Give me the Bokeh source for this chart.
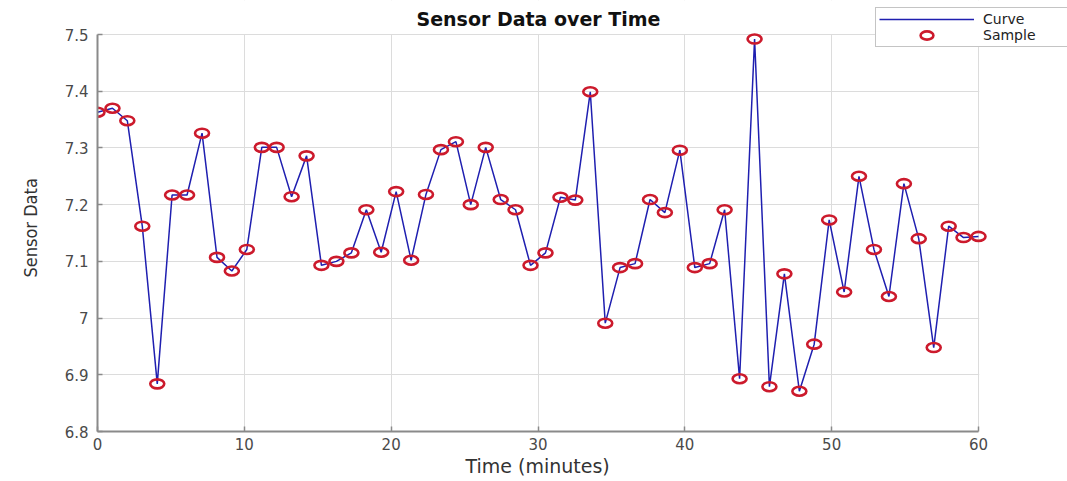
from bokeh.plotting import figure
from bokeh.models import (Range1d, FixedTicker, Legend, LegendItem, Title,
                          Label, BoxAnnotation)
from bokeh.embed import file_html
from bokeh.resources import INLINE

time_min = [0.00, 1.02, 2.03, 3.05, 4.07, 5.08, 6.10, 7.12, 8.14, 9.15,
            10.17, 11.19, 12.20, 13.22, 14.24, 15.25, 16.27, 17.29, 18.31, 19.32,
            20.34, 21.36, 22.37, 23.39, 24.41, 25.42, 26.44, 27.46, 28.47, 29.49,
            30.51, 31.53, 32.54, 33.56, 34.58, 35.59, 36.61, 37.63, 38.64, 39.66,
            40.68, 41.69, 42.71, 43.73, 44.75, 45.76, 46.78, 47.80, 48.81, 49.83,
            50.85, 51.86, 52.88, 53.90, 54.92, 55.93, 56.95, 57.97, 58.98, 60.00]

sensor = [7.363, 7.370, 7.348, 7.162, 6.884, 7.217, 7.217, 7.326, 7.107, 7.083,
          7.121, 7.301, 7.301, 7.214, 7.286, 7.093, 7.100, 7.115, 7.191, 7.116,
          7.223, 7.102, 7.218, 7.297, 7.311, 7.200, 7.301, 7.209, 7.191, 7.093,
          7.115, 7.213, 7.208, 7.399, 6.991, 7.089, 7.096, 7.209, 7.186, 7.296,
          7.089, 7.096, 7.191, 6.893, 7.492, 6.879, 7.078, 6.871, 6.954, 7.173,
          7.046, 7.250, 7.121, 7.038, 7.237, 7.140, 6.948, 7.162, 7.142, 7.144]

x_lim = (0, 60)
y_lim = (6.8, 7.5)
x_ticks = [0, 10, 20, 30, 40, 50, 60]
y_ticks = [6.8, 6.9, 7.0, 7.1, 7.2, 7.3, 7.4, 7.5]
y_tick_labels = ["6.8", "6.9", "7", "7.1", "7.2", "7.3", "7.4", "7.5"]

FONT = "DejaVu Sans"
GREY_TXT = "#4a4a4a"

# The frame spans to the right and top edges so the legend (which sits
# partly above the axes box) is not clipped; axes are bounded to the data box.
FRAME_L, FRAME_B = 97, 431          # px: data box left / bottom
PX_X = (978 - 97) / (x_lim[1] - x_lim[0])
PX_Y = (431 - 34) / (y_lim[1] - y_lim[0])
x_max_view = x_lim[0] + (1067 - FRAME_L) / PX_X
y_max_view = y_lim[1] + 34 / PX_Y

p = figure(width=1067, height=481, output_backend="svg", toolbar_location=None,
           x_range=Range1d(x_lim[0], x_max_view), y_range=Range1d(y_lim[0], y_max_view),
           min_border_left=97, min_border_right=0, min_border_top=0, min_border_bottom=50,
           background_fill_color="white", border_fill_color="white")
p.outline_line_color = None

# axes
for ax in (p.xaxis[0], p.yaxis[0]):
    ax.axis_line_color = "#8a8a8a"
    ax.axis_line_width = 2
    ax.major_tick_in = 5
    ax.major_tick_out = 0
    ax.minor_tick_in = 0
    ax.minor_tick_out = 0
    ax.major_tick_line_color = "#8a8a8a"
    ax.major_tick_line_width = 1.5
    ax.major_label_text_font = FONT
    ax.major_label_text_font_size = "15px"
    ax.major_label_text_color = GREY_TXT

p.xaxis.bounds = x_lim
p.yaxis.bounds = y_lim
p.xaxis.ticker = FixedTicker(ticks=x_ticks)
p.yaxis.ticker = FixedTicker(ticks=y_ticks)
p.yaxis.major_label_overrides = {t: s for t, s in zip(y_ticks, y_tick_labels)}
p.xaxis.major_label_standoff = 6
p.yaxis.major_label_standoff = 9

# grid
p.xgrid.grid_line_color = "#dcdcdc"
p.ygrid.grid_line_color = "#dcdcdc"

# blank the area outside the data box (above 7.5 and right of 60)
p.add_layout(BoxAnnotation(bottom=y_lim[1] + 0.001, fill_color="white", fill_alpha=1.0,
                           line_alpha=0, level="underlay"))
p.add_layout(BoxAnnotation(left=x_lim[1] + 0.05, fill_color="white", fill_alpha=1.0,
                           line_alpha=0, level="underlay"))

# axis labels as titles in the side panels
p.add_layout(Title(text="Time (minutes)", align="left", offset=368,
                   text_font=FONT, text_font_size="19px", text_font_style="normal",
                   text_color="#333333", standoff=0, vertical_align="bottom"), "below")
p.add_layout(Title(text="Sensor Data", align="left", offset=154,
                   text_font="Liberation Sans Narrow, DejaVu Sans Condensed, sans-serif",
                   text_font_size="18px", text_font_style="normal",
                   text_color="#333333", standoff=38, vertical_align="top"), "left")

# chart title
p.add_layout(Label(x=441, y=413, x_units="screen", y_units="screen",
                   text="Sensor Data over Time", text_align="center",
                   text_baseline="alphabetic", text_font=FONT, text_font_size="19px",
                   text_font_style="bold", text_color="#111111"))

curve = p.line(time_min, sensor, line_color="#1f1fb0", line_width=1.5)
sample = p.ellipse(x=time_min, y=sensor, width=14, height=9,
                   width_units="screen", height_units="screen",
                   fill_color=None, line_color="#cc1a2c", line_width=2.6)

legend = Legend(items=[LegendItem(label="Curve", renderers=[curve]),
                       LegendItem(label="Sample", renderers=[sample])],
                location=(778, 384), orientation="vertical",
                padding=3, spacing=0, margin=0,
                glyph_width=95, glyph_height=16, label_height=16, label_width=100,
                label_standoff=9, label_text_font=FONT,
                label_text_font_size="14px", label_text_color="#222222",
                border_line_color="#8a8a8a", border_line_width=1.5,
                background_fill_color="white", background_fill_alpha=1.0)
p.add_layout(legend, "center")

open("out.html", "w").write(file_html(p, INLINE))
